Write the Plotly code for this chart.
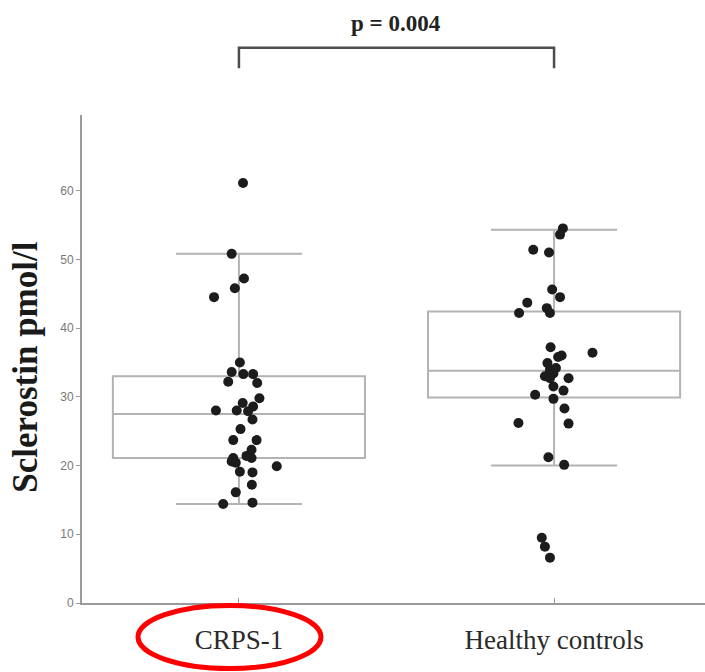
import plotly.graph_objects as go

# ---------------- data ----------------
categories = ["CRPS-1", "Healthy controls"]
cat_pos = [0, 1]

# box statistics: q1, median, q3, lower whisker, upper whisker
box_q1 = [21.1, 29.9]
box_median = [27.5, 33.8]
box_q3 = [33.0, 42.4]
box_lower = [14.4, 20.0]
box_upper = [50.8, 54.3]

crps_values = [61.1, 50.8, 47.2, 45.8, 44.5, 35.0, 33.6, 33.3, 33.3, 32.2,
               32.0, 29.8, 29.1, 28.6, 28.0, 28.0, 27.9, 26.7, 25.3, 23.7,
               23.7, 22.3, 21.4, 21.1, 21.1, 20.6, 20.4, 19.9, 19.1, 19.0,
               17.2, 16.1, 14.4, 14.6]
crps_jitter = [0.013, -0.023, 0.016, -0.013, -0.079, 0.003, -0.023, 0.014, 0.045, -0.034,
               0.058, 0.065, 0.012, 0.045, -0.073, -0.007, 0.029, 0.043, 0.005, -0.018,
               0.056, 0.040, 0.024, -0.018, 0.040, -0.023, -0.010, 0.120, 0.003, 0.043,
               0.041, -0.010, -0.050, 0.043]

healthy_values = [54.5, 53.6, 51.4, 51.0, 45.6, 44.5, 43.7, 42.2, 42.9, 42.2,
                  37.2, 36.0, 36.4, 35.8, 34.9, 33.9, 33.4, 32.7, 33.0, 34.2,
                  32.7, 31.5, 30.9, 30.3, 29.7, 28.3, 26.2, 26.1, 21.2, 20.1,
                  9.5, 8.2, 6.6]
healthy_jitter = [0.028, 0.019, -0.066, -0.016, -0.006, 0.019, -0.085, -0.111, -0.023, -0.013,
                  -0.011, 0.024, 0.122, 0.013, -0.021, -0.013, -0.002, 0.046, -0.029, 0.006,
                  -0.013, -0.002, 0.030, -0.060, -0.002, 0.033, -0.113, 0.046, -0.018, 0.032,
                  -0.039, -0.029, -0.013]

p_text = "p = 0.004"
y_title = "Sclerostin pmol/l"
y_ticks = [0, 10, 20, 30, 40, 50, 60]

# ---------------- figure ----------------
fig = go.Figure()

fig.add_trace(go.Box(
    x=cat_pos, q1=box_q1, median=box_median, q3=box_q3,
    lowerfence=box_lower, upperfence=box_upper,
    width=0.8, whiskerwidth=0.5,
    line=dict(color="#b3b3b3", width=2),
    fillcolor="rgba(0,0,0,0)",
    boxpoints=False, hoverinfo="skip", showlegend=False,
))

pt_x = [cat_pos[0] + j for j in crps_jitter] + [cat_pos[1] + j for j in healthy_jitter]
pt_y = crps_values + healthy_values
fig.add_trace(go.Scatter(
    x=pt_x, y=pt_y, mode="markers",
    marker=dict(size=10, color="#1c1c1c", line=dict(width=0)),
    showlegend=False, hoverinfo="skip",
))

# significance bracket
bracket_top = 1.138
bracket_bot = 1.096
fig.add_shape(type="path", xref="x", yref="paper",
              path=f"M {cat_pos[0]},{bracket_bot} L {cat_pos[0]},{bracket_top} L {cat_pos[1]},{bracket_top} L {cat_pos[1]},{bracket_bot}",
              line=dict(color="#4d4d4d", width=2.5))
fig.add_annotation(x=0.5, xref="x", y=1.188, yref="paper", text=f"<b>{p_text}</b>",
                   showarrow=False, font=dict(family="Liberation Serif", size=23, color="#222222"),
                   xanchor="center", yanchor="middle")

# y-axis title
fig.add_annotation(x=-0.09, xref="paper", y=0.484, yref="paper", text=f"<b>{y_title}</b>",
                   textangle=-90, showarrow=False,
                   font=dict(family="Liberation Serif", size=35, color="#1a1a1a"),
                   xanchor="center", yanchor="middle")

# red ellipse highlighting CRPS-1
fig.add_shape(type="circle", xref="paper", yref="paper",
              x0=0.0899, x1=0.3836, y0=-0.1342, y1=-0.0051,
              line=dict(color="#ff0000", width=5))

fig.update_layout(
    width=705, height=672,
    margin=dict(l=82, r=0, t=115, b=69),
    paper_bgcolor="white", plot_bgcolor="white",
    xaxis=dict(
        range=[-0.498, 1.479], tickvals=cat_pos, ticktext=categories,
        showline=True, linecolor="#9a9a9a", linewidth=2,
        ticks="inside", ticklen=5, tickcolor="#9a9a9a",
        tickfont=dict(family="Liberation Serif", size=27, color="#2a2a2a"),
        showgrid=False, zeroline=False, ticklabelstandoff=12,
    ),
    yaxis=dict(
        range=[0, 71], tickvals=y_ticks,
        showline=True, linecolor="#9a9a9a", linewidth=2,
        ticks="outside", ticklen=4, tickcolor="#9a9a9a",
        tickfont=dict(family="Liberation Sans", size=12, color="#777777"),
        showgrid=False, zeroline=False,
    ),
)

fig.write_html("out.html")
